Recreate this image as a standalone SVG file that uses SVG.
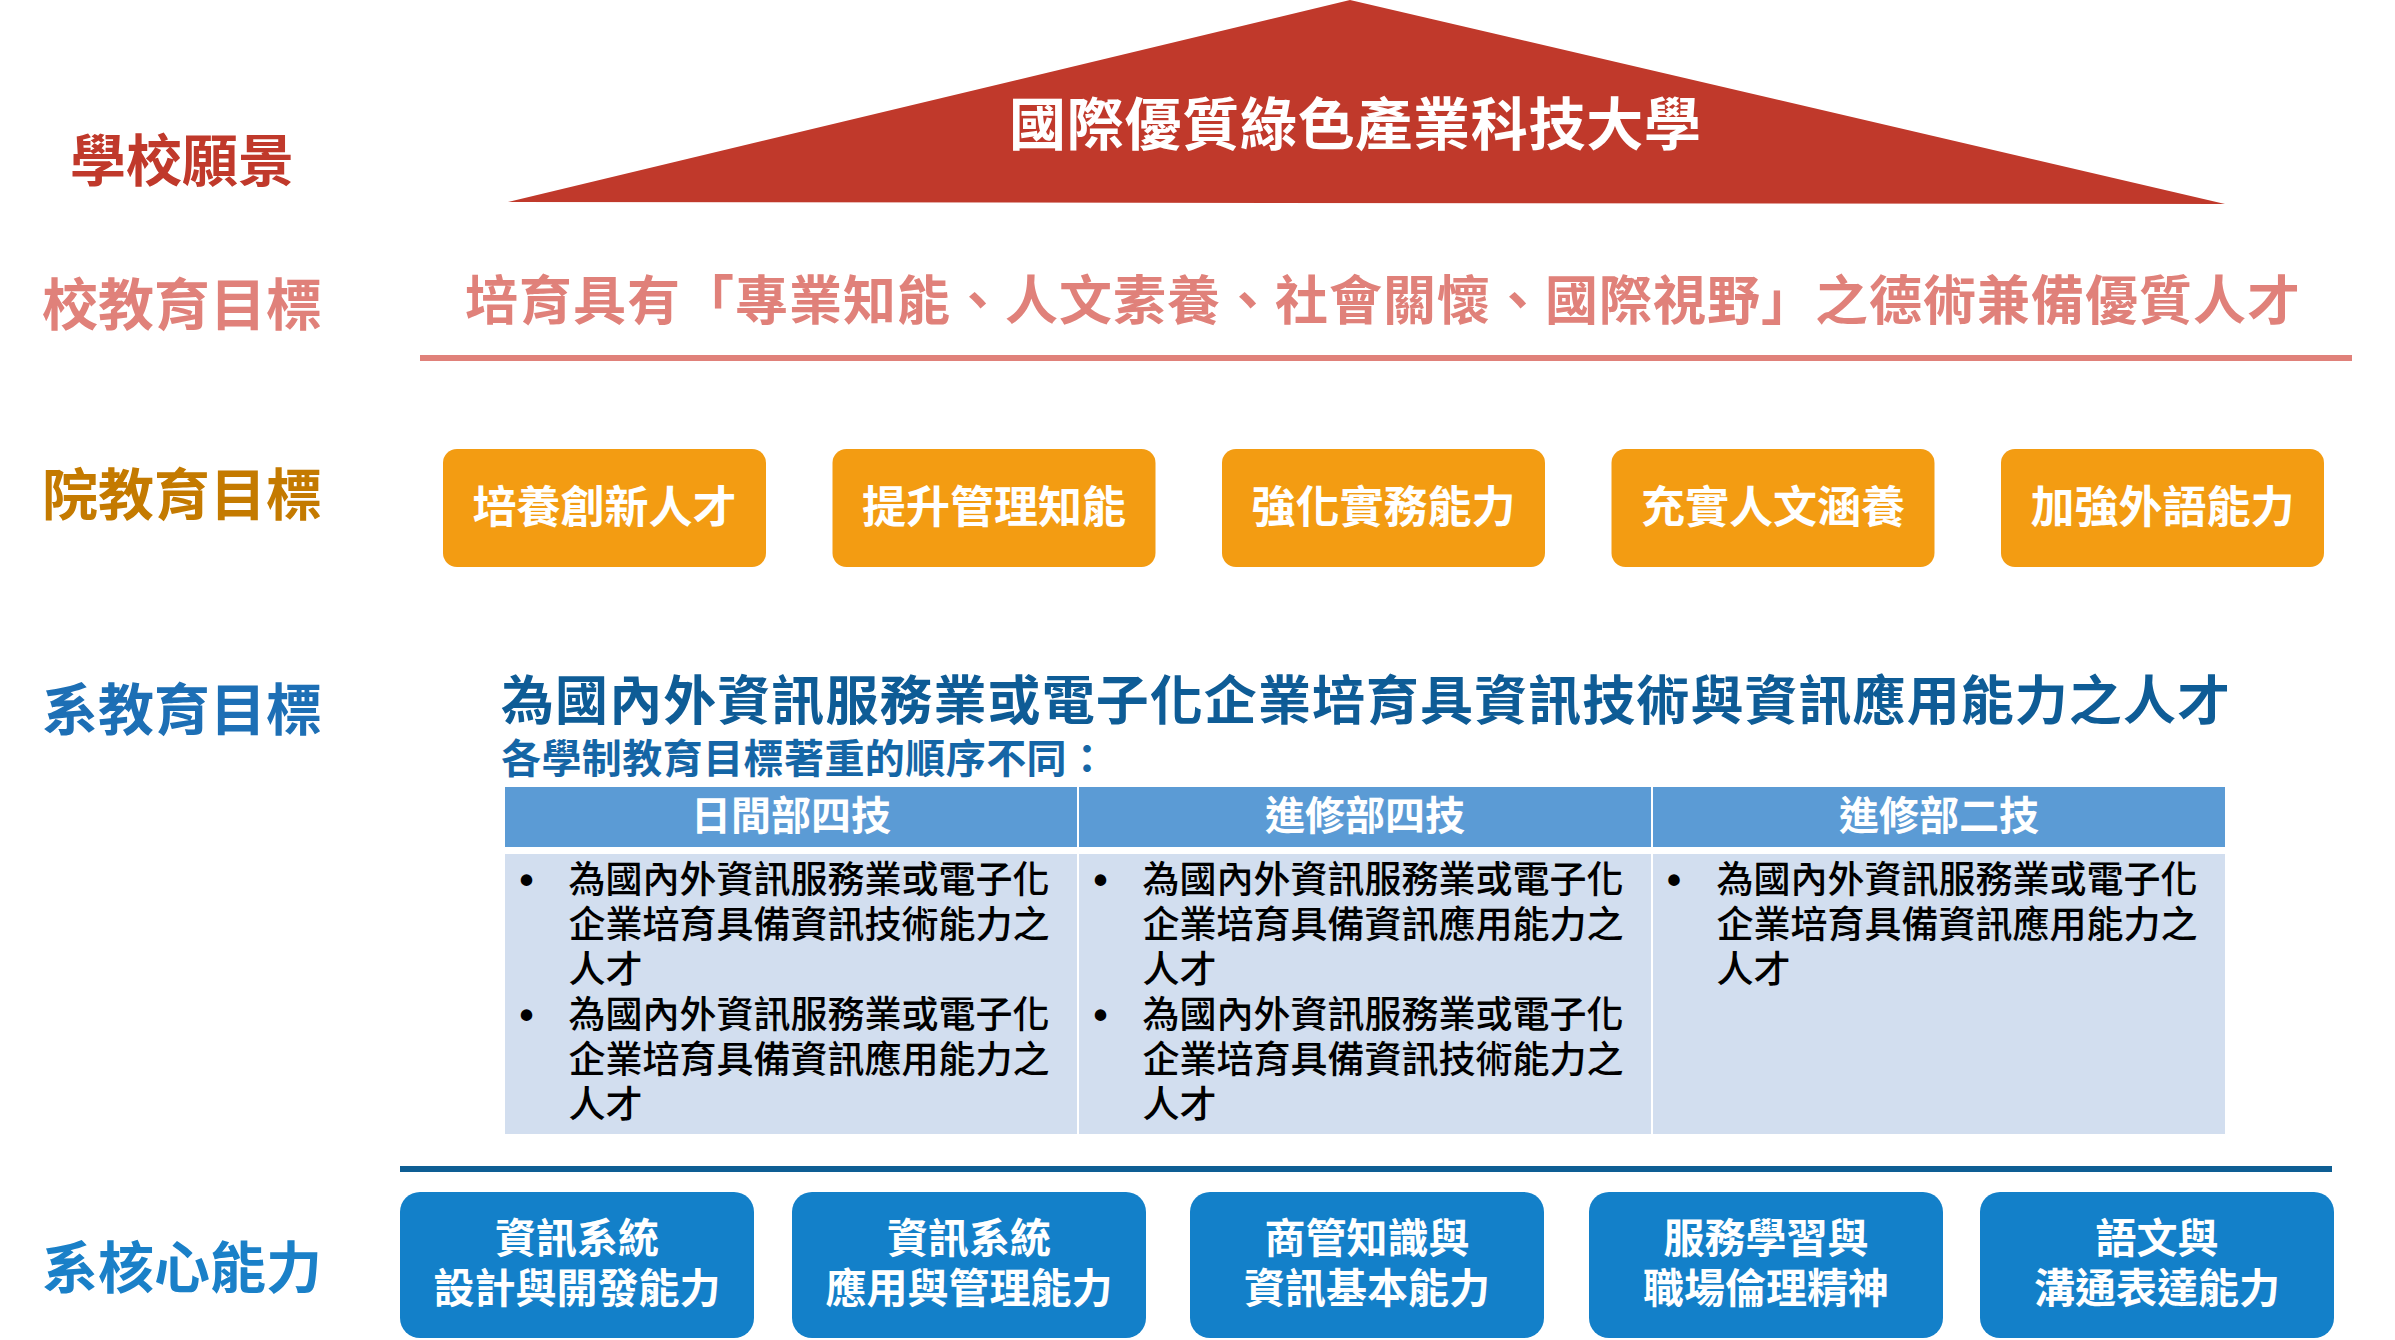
<svg xmlns="http://www.w3.org/2000/svg" width="2395" height="1340" viewBox="0 0 2395 1340">
<style>
text{font-family:"Liberation Sans","Noto Sans CJK TC","Noto Sans CJK SC",sans-serif;font-weight:700}
.lbl{font-size:56px;text-anchor:middle}
.orange{fill:#F39C12}
.otext{fill:#fff;font-size:44px;text-anchor:middle}
.btext{fill:#fff;font-size:41px;text-anchor:middle}
.hdr{fill:#fff;font-size:40px;text-anchor:middle}
.body{fill:#000;font-size:37px;font-weight:500}
.bul{fill:#000;font-size:40px;text-anchor:middle}
.bluebox{fill:#1380C9}
</style>
<rect width="2395" height="1340" fill="#fff"/>

<g id="vision">
<polygon points="1350,0 508,202 2225,204" fill="#C0392B"/>
<text x="1355" y="145" font-size="57" fill="#fff" text-anchor="middle" textLength="692" lengthAdjust="spacing">國際優質綠色產業科技大學</text>
</g>

<g id="labels">
<text class="lbl" x="182" y="181" fill="#C0392B">學校願景</text>
<text class="lbl" x="182" y="325" fill="#E0817A">校教育目標</text>
<text class="lbl" x="182" y="515" fill="#C47A00">院教育目標</text>
<text class="lbl" x="182" y="730" fill="#1D6FB5">系教育目標</text>
<text class="lbl" x="182" y="1288" fill="#1A80C8">系核心能力</text>
</g>

<g id="school-goal">
<text x="465" y="320" font-size="53" fill="#E0817A" textLength="1835" lengthAdjust="spacing">培育具有「專業知能、人文素養、社會關懷、國際視野」之德術兼備優質人才</text>
<rect x="420" y="355" width="1932" height="6" fill="#E0817A"/>
</g>

<g id="college-goals">
<g id="cg1"><rect class="orange" x="443" y="449" width="323" height="118" rx="14"/><text class="otext" x="604.5" y="523">培養創新人才</text></g>
<g id="cg2"><rect class="orange" x="832.5" y="449" width="323" height="118" rx="14"/><text class="otext" x="994" y="523">提升管理知能</text></g>
<g id="cg3"><rect class="orange" x="1222" y="449" width="323" height="118" rx="14"/><text class="otext" x="1383.5" y="523">強化實務能力</text></g>
<g id="cg4"><rect class="orange" x="1611.5" y="449" width="323" height="118" rx="14"/><text class="otext" x="1773" y="523">充實人文涵養</text></g>
<g id="cg5"><rect class="orange" x="2001" y="449" width="323" height="118" rx="14"/><text class="otext" x="2162.5" y="523">加強外語能力</text></g>
</g>

<g id="dept-goal">
<text x="501" y="720" font-size="53" fill="#0E5C96" textLength="1729" lengthAdjust="spacing">為國內外資訊服務業或電子化企業培育具資訊技術與資訊應用能力之人才</text>
<text x="501" y="773" font-size="40" fill="#1566A6" textLength="606" lengthAdjust="spacing">各學制教育目標著重的順序不同：</text>
</g>

<g id="table">
<rect x="505" y="787" width="1720" height="60" fill="#5B9BD5"/>
<rect x="505" y="854" width="1720" height="280" fill="#D2DEEF"/>
<rect x="1077" y="787" width="2" height="347" fill="#fff"/>
<rect x="1651" y="787" width="2" height="347" fill="#fff"/>
<text class="hdr" x="791" y="830">日間部四技</text>
<text class="hdr" x="1365" y="830">進修部四技</text>
<text class="hdr" x="1939" y="830">進修部二技</text>

<g id="col1">
<text class="bul" x="526.5" y="894">•</text>
<text class="bul" x="526.5" y="1029">•</text>
<text class="body"><tspan x="568.5" y="893">為國內外資訊服務業或電子化</tspan><tspan x="568.5" y="938">企業培育具備資訊技術能力之</tspan><tspan x="568.5" y="983">人才</tspan><tspan x="568.5" y="1028">為國內外資訊服務業或電子化</tspan><tspan x="568.5" y="1073">企業培育具備資訊應用能力之</tspan><tspan x="568.5" y="1118">人才</tspan></text>
</g>
<g id="col2">
<text class="bul" x="1100.5" y="894">•</text>
<text class="bul" x="1100.5" y="1029">•</text>
<text class="body"><tspan x="1142.5" y="893">為國內外資訊服務業或電子化</tspan><tspan x="1142.5" y="938">企業培育具備資訊應用能力之</tspan><tspan x="1142.5" y="983">人才</tspan><tspan x="1142.5" y="1028">為國內外資訊服務業或電子化</tspan><tspan x="1142.5" y="1073">企業培育具備資訊技術能力之</tspan><tspan x="1142.5" y="1118">人才</tspan></text>
</g>
<g id="col3">
<text class="bul" x="1674" y="894">•</text>
<text class="body"><tspan x="1716.5" y="893">為國內外資訊服務業或電子化</tspan><tspan x="1716.5" y="938">企業培育具備資訊應用能力之</tspan><tspan x="1716.5" y="983">人才</tspan></text>
</g>
</g>

<g id="connectors">
<rect x="400" y="1166" width="1932" height="6" fill="#0E5E94"/>
</g>

<g id="core-abilities">
<g id="ca1"><rect class="bluebox" x="400" y="1192" width="354" height="146" rx="20"/><text class="btext"><tspan x="577" y="1253">資訊系統</tspan><tspan x="577" y="1303">設計與開發能力</tspan></text></g>
<g id="ca2"><rect class="bluebox" x="792" y="1192" width="354" height="146" rx="20"/><text class="btext"><tspan x="969" y="1253">資訊系統</tspan><tspan x="969" y="1303">應用與管理能力</tspan></text></g>
<g id="ca3"><rect class="bluebox" x="1190" y="1192" width="354" height="146" rx="20"/><text class="btext"><tspan x="1367" y="1253">商管知識與</tspan><tspan x="1367" y="1303">資訊基本能力</tspan></text></g>
<g id="ca4"><rect class="bluebox" x="1589" y="1192" width="354" height="146" rx="20"/><text class="btext"><tspan x="1766" y="1253">服務學習與</tspan><tspan x="1766" y="1303">職場倫理精神</tspan></text></g>
<g id="ca5"><rect class="bluebox" x="1980" y="1192" width="354" height="146" rx="20"/><text class="btext"><tspan x="2157" y="1253">語文與</tspan><tspan x="2157" y="1303">溝通表達能力</tspan></text></g>
</g>
</svg>
